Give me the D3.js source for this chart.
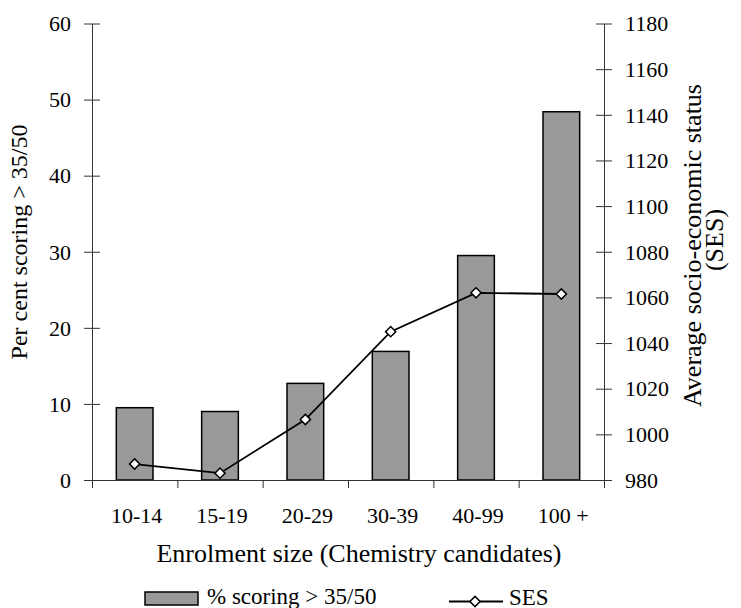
<!DOCTYPE html>
<html>
<head>
<meta charset="utf-8">
<script src="https://cdn.jsdelivr.net/npm/d3@7"></script>
<style>
  body { margin: 0; background: #fff; }
</style>
</head>
<body>
<div id="chart"></div>
<script>
// data
const categories = ['10-14', '15-19', '20-29', '30-39', '40-99', '100 +'];
const pctScoring = [9.5, 9.0, 12.7, 16.9, 29.5, 48.4];
const sesValues = [987, 983, 1006.5, 1045, 1062, 1061.5];
const leftTicks = [0, 10, 20, 30, 40, 50, 60];
const rightTicks = [980, 1000, 1020, 1040, 1060, 1080, 1100, 1120, 1140, 1160, 1180];

const W = 741, H = 608;
const plot = {left: 92, right: 604, top: 23.5, bottom: 480};
const serif = 'Liberation Serif';

const svg = d3.select('#chart').append('svg')
    .attr('width', W)
    .attr('height', H);

svg.append('rect')
    .attr('width', W).attr('height', H)
    .attr('fill', '#fff');

// scales
const x = d3.scaleBand()
    .domain(categories)
    .range([plot.left, plot.right])
    .padding(0);

const xEdge = d3.scaleLinear()
    .domain([0, categories.length])
    .range([plot.left, plot.right]);

const yLeft = d3.scaleLinear()
    .domain([0, 60])
    .range([plot.bottom, plot.top]);

const yRight = d3.scaleLinear()
    .domain([980, 1180])
    .range([plot.bottom, plot.top]);

const barW = x.bandwidth() * 0.43;

function label(sel, size) {
    return sel.style('font-family', serif)
        .style('font-size', (size || 22) + 'px')
        .attr('fill', '#000');
}

// bars
svg.selectAll('.bar')
    .data(categories.map((c, i) => ({cat: c, v: pctScoring[i]})))
    .enter()
    .append('rect')
    .attr('class', 'bar')
    .attr('x', d => x(d.cat) + (x.bandwidth() - barW) / 2)
    .attr('y', d => yLeft(d.v))
    .attr('width', barW)
    .attr('height', d => yLeft(0) - yLeft(d.v))
    .attr('fill', '#999999')
    .attr('stroke', '#000')
    .attr('stroke-width', 1.5);

// x axis, ticks at category edges
const xAxis = svg.append('g')
    .attr('transform', 'translate(0,' + plot.bottom + ')')
    .call(d3.axisBottom(xEdge)
        .tickValues(d3.range(categories.length + 1))
        .tickSize(8)
        .tickSizeOuter(0)
        .tickFormat(''));
xAxis.select('.domain').attr('stroke', '#333');
xAxis.selectAll('.tick line').attr('stroke', '#333');

svg.selectAll('.xlabel')
    .data(categories)
    .enter()
    .append('text')
    .attr('class', 'xlabel')
    .attr('x', d => x(d) + x.bandwidth() / 2 + 2)
    .attr('y', 523)
    .attr('text-anchor', 'middle')
    .call(label)
    .text(d => d);

// left axis
const gl = svg.append('g')
    .attr('transform', 'translate(' + plot.left + ',0)')
    .call(d3.axisLeft(yLeft).tickValues(leftTicks).tickFormat(d3.format('d')).tickSizeOuter(0));
gl.select('.domain').attr('stroke', '#333');
gl.selectAll('.tick line').attr('x1', -8).attr('x2', 8).attr('stroke', '#333');
gl.selectAll('.tick text')
    .attr('x', -21)
    .attr('dy', '0.33em')
    .call(label);

// right axis
const gr = svg.append('g')
    .attr('transform', 'translate(' + plot.right + ',0)')
    .call(d3.axisRight(yRight).tickValues(rightTicks).tickFormat(d3.format('d')).tickSizeOuter(0));
gr.select('.domain').attr('stroke', '#333');
gr.selectAll('.tick line').attr('x1', -8).attr('x2', 8).attr('stroke', '#333');
gr.selectAll('.tick text')
    .attr('x', 21)
    .attr('dy', '0.33em')
    .call(label);

// SES line
const sesLine = d3.line()
    .x((d, i) => x(categories[i]) + x.bandwidth() / 2)
    .y(d => yRight(d));

svg.append('path')
    .datum(sesValues)
    .attr('d', sesLine)
    .attr('fill', 'none')
    .attr('stroke', '#000')
    .attr('stroke-width', 1.8);

const diamond = d3.symbol().type(d3.symbolSquare).size(52);

svg.selectAll('.marker')
    .data(sesValues)
    .enter()
    .append('path')
    .attr('class', 'marker')
    .attr('d', diamond)
    .attr('transform', (d, i) => 'translate(' + (x(categories[i]) + x.bandwidth() / 2) + ',' + yRight(d) + ') rotate(45)')
    .attr('fill', '#fff')
    .attr('stroke', '#000')
    .attr('stroke-width', 1.5);

// axis titles
svg.append('text')
    .attr('transform', 'translate(27,242) rotate(-90)')
    .attr('text-anchor', 'middle')
    .call(label, 24)
    .text('Per cent scoring > 35/50');

svg.append('text')
    .attr('transform', 'translate(701,245.5) rotate(-90)')
    .attr('text-anchor', 'middle')
    .call(label, 26)
    .text('Average socio-economic status');

svg.append('text')
    .attr('transform', 'translate(723,240) rotate(-90)')
    .attr('text-anchor', 'middle')
    .call(label, 26)
    .text('(SES)');

svg.append('text')
    .attr('x', 359)
    .attr('y', 562)
    .attr('text-anchor', 'middle')
    .call(label, 26)
    .text('Enrolment size (Chemistry candidates)');

// legend
svg.append('rect')
    .attr('x', 145).attr('y', 592)
    .attr('width', 53).attr('height', 13)
    .attr('fill', '#999999')
    .attr('stroke', '#000')
    .attr('stroke-width', 1.5);

svg.append('text')
    .attr('x', 207).attr('y', 604)
    .call(label, 23)
    .text('% scoring > 35/50');

svg.append('line')
    .attr('x1', 449).attr('x2', 503)
    .attr('y1', 601.5).attr('y2', 601.5)
    .attr('stroke', '#000')
    .attr('stroke-width', 1.8);

svg.append('path')
    .attr('d', diamond)
    .attr('transform', 'translate(475,601.5) rotate(45)')
    .attr('fill', '#fff')
    .attr('stroke', '#000')
    .attr('stroke-width', 1.5);

svg.append('text')
    .attr('x', 509).attr('y', 605)
    .call(label, 23)
    .text('SES');
</script>
</body>
</html>
